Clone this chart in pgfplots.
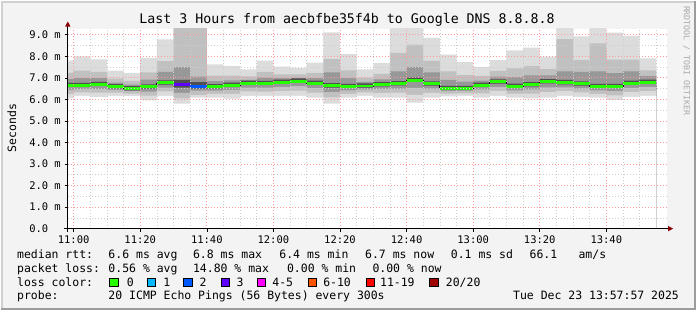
\documentclass[border=0pt]{standalone}
\usepackage{fontspec}
\setmainfont{DejaVu Sans Mono}
\usepackage{pgfplots}
\pgfplotsset{compat=1.18}
\usepackage{pgfplotstable}

\definecolor{bg}{HTML}{F3F3F3}
\definecolor{g1}{HTML}{DCDCDC}
\definecolor{g2}{HTML}{C0C0C0}
\definecolor{g3}{HTML}{989898}
\definecolor{g4}{HTML}{505050}
\definecolor{majgrid}{HTML}{FF9A9A}
\definecolor{mingrid}{HTML}{CFCFCF}
\definecolor{loss0}{HTML}{26FF00}
\definecolor{loss1}{HTML}{00B8FF}
\definecolor{loss2}{HTML}{0059FF}
\definecolor{loss3}{HTML}{5E00FF}
\definecolor{loss4}{HTML}{FF00FF}
\definecolor{loss6}{HTML}{FF5500}
\definecolor{loss11}{HTML}{FF0000}
\definecolor{loss20}{HTML}{A10000}
\definecolor{arrowred}{HTML}{8B0000}
\definecolor{edgelight}{HTML}{D0D0D0}
\definecolor{edgedark}{HTML}{9C9C9C}
\definecolor{rrdgray}{HTML}{AAAAAA}

% minutes after 11:00; a1..a4 below median, b4..b1 above (smoke bands)
\pgfplotstableread{
t a1 a2 a3 a4 med b4 b3 b2 b1
-5 6.05 6.26 6.44 6.57 6.65 6.77 6.94 7.23 7.80
0 6.16 6.33 6.48 6.57 6.65 6.77 6.99 7.33 8.00
5 6.10 6.31 6.48 6.61 6.69 6.81 6.98 7.28 7.86
10 6.16 6.31 6.44 6.51 6.59 6.71 6.78 6.96 7.33
15 6.15 6.27 6.38 6.42 6.50 6.62 6.68 6.86 7.22
20 5.95 6.17 6.36 6.50 6.58 6.70 6.92 7.25 7.92
25 6.16 6.37 6.55 6.68 6.76 6.88 7.27 7.77 8.78
30 5.80 6.05 6.30 6.55 6.68 6.90 7.50 9.50 9.50
35 6.08 6.20 6.40 6.50 6.60 6.80 7.05 9.50 9.50
40 6.08 6.26 6.41 6.51 6.59 6.71 6.85 7.10 7.62
45 6.03 6.25 6.44 6.58 6.66 6.78 6.88 7.10 7.55
50 6.16 6.37 6.54 6.67 6.75 6.87 6.91 7.07 7.39
55 6.16 6.36 6.54 6.66 6.74 6.86 7.01 7.27 7.80
60 6.16 6.38 6.58 6.72 6.80 6.92 6.98 7.16 7.52
65 6.16 6.40 6.61 6.77 6.85 6.97 7.00 7.16 7.46
70 6.08 6.31 6.52 6.67 6.75 6.87 6.99 7.23 7.70
75 5.80 6.09 6.34 6.55 6.63 6.75 7.25 7.87 9.11
80 6.08 6.26 6.42 6.52 6.60 6.72 6.98 7.35 8.10
85 6.16 6.32 6.46 6.54 6.62 6.74 6.81 7.01 7.39
90 6.08 6.29 6.47 6.60 6.68 6.80 6.93 7.18 7.68
95 6.08 6.31 6.50 6.65 6.73 6.85 7.30 8.16 9.50
100 5.85 6.21 6.53 6.81 6.89 7.01 7.50 8.54 9.50
105 6.08 6.30 6.50 6.64 6.72 6.84 7.25 7.79 8.85
110 6.14 6.27 6.38 6.43 6.51 6.63 6.90 7.30 8.08
115 6.16 6.28 6.39 6.43 6.51 6.63 6.82 7.12 7.73
120 6.08 6.28 6.46 6.58 6.66 6.78 6.87 7.09 7.51
125 6.16 6.39 6.58 6.73 6.81 6.93 7.06 7.32 7.82
130 6.08 6.27 6.42 6.53 6.61 6.73 7.03 7.44 8.27
135 6.05 6.27 6.46 6.60 6.68 6.80 7.11 7.54 8.40
140 6.08 6.34 6.56 6.74 6.82 6.94 7.11 7.40 7.98
145 6.16 6.38 6.56 6.70 6.78 6.90 7.30 8.80 9.50
150 6.12 6.33 6.51 6.64 6.72 6.84 7.27 7.82 8.92
155 6.08 6.26 6.42 6.52 6.60 6.72 7.30 8.60 9.50
160 5.96 6.18 6.38 6.52 6.60 6.72 7.22 7.85 9.10
165 6.12 6.34 6.53 6.67 6.75 6.87 7.30 7.85 8.95
170 6.16 6.38 6.58 6.72 6.80 6.92 7.08 7.35 7.90
175 6.16 6.38 6.58 6.72 6.80 6.92 7.08 7.35 7.90
}\smoke

\begin{document}
\begin{tikzpicture}
% canvas
\fill[bg] (0pt,0pt) rectangle (697pt,310pt);
\draw[edgelight, line width=2pt] (1pt,0pt) -- (1pt,309pt) -- (697pt,309pt);
\draw[edgedark, line width=2pt] (0pt,1pt) -- (696pt,1pt) -- (696pt,310pt);

\begin{axis}[
  at={(67pt,81.7pt)}, anchor=south west, scale only axis,
  width=601pt, height=200.3pt,
  xmin=-1.75, xmax=178.25, ymin=0, ymax=9.27,
  axis on top,
  axis background/.style={fill=white},
  axis line style={draw=none},
  tick pos=left, tick align=outside,
  major tick length=3pt, minor tick length=0pt,
  tick style={black, line width=0.6pt},
  xtick={0,20,...,160},
  xticklabels={11:00,11:20,11:40,12:00,12:20,12:40,13:00,13:20,13:40},
  minor xtick={5,10,15,25,30,35,45,50,55,65,70,75,85,90,95,105,110,115,125,130,135,145,150,155,165,170,175},
  ytick={0,1,2,3,4,5,6,7,8,9},
  yticklabels={0.0\hphantom{\ m},1.0 m,2.0 m,3.0 m,4.0 m,5.0 m,6.0 m,7.0 m,8.0 m,9.0 m},
  minor ytick={0.5,1.5,2.5,3.5,4.5,5.5,6.5,7.5,8.5},
  grid=both,
  major grid style={majgrid, dash pattern=on 1pt off 2pt, line width=0.7pt},
  minor grid style={mingrid, dash pattern=on 1pt off 2pt, line width=0.7pt},
  ticklabel style={font=\fontsize{10.5}{12}\selectfont, text=black},
  xticklabel style={yshift=-0.5pt},
  yticklabel style={xshift=-0.5pt},
  /pgf/number format/assume math mode=true,
]
% smoke bands, painted from the baseline upwards
\addplot[fill=g1, draw=none, const plot mark left] table[x=t,y=b1]{\smoke} \closedcycle;
\addplot[fill=g2, draw=none, const plot mark left] table[x=t,y=b2]{\smoke} \closedcycle;
\addplot[fill=g3, draw=none, const plot mark left] table[x=t,y=b3]{\smoke} \closedcycle;
\addplot[fill=g4, draw=none, const plot mark left] table[x=t,y=b4]{\smoke} \closedcycle;
\addplot[fill=g3, draw=none, const plot mark left] table[x=t,y=a4]{\smoke} \closedcycle;
\addplot[fill=g2, draw=none, const plot mark left] table[x=t,y=a3]{\smoke} \closedcycle;
\addplot[fill=g1, draw=none, const plot mark left] table[x=t,y=a2]{\smoke} \closedcycle;
\addplot[fill=white, draw=none, const plot mark left] table[x=t,y=a1]{\smoke} \closedcycle;
% median rtt
\addplot[black, line width=0.8pt, const plot mark left] table[x=t,y=med]{\smoke};
\addplot[loss0, line width=3pt, jump mark left] table[x=t,y=med]{\smoke};
\addplot[loss3, line width=3pt, jump mark left] coordinates {(30,6.68) (35,6.68)};
\addplot[loss2, line width=3pt, jump mark left] coordinates {(35,6.60) (40,6.60)};
\end{axis}

% axis lines and arrows
\draw[black, line width=1pt] (67pt,78.5pt) -- (67pt,285pt);
\draw[black, line width=1pt] (63pt,81.7pt) -- (670pt,81.7pt);
\fill[arrowred] (64.3pt,284.3pt) -- (69.7pt,284.3pt) -- (67pt,289.5pt) -- cycle;
\fill[arrowred] (669pt,79pt) -- (669pt,84.4pt) -- (674pt,81.7pt) -- cycle;

% title and labels
\node[font=\fontsize{13.3}{15}\selectfont] at (347pt,291pt) {Last 3 Hours from aecbfbe35f4b to Google DNS 8.8.8.8};
\node[rotate=90, font=\fontsize{11.5}{13}\selectfont] at (11pt,182.5pt) {Seconds};
\node[rotate=-90, font=\fontsize{8.3}{10}\selectfont, text=rrdgray] at (687.5pt,250pt) {RRDTOOL / TOBI OETIKER};

% legend
\begin{scope}[every node/.style={inner sep=0pt, anchor=base west, font=\fontsize{11.5}{13}\selectfont}]
\node at (16pt,51.3pt) {median rtt:};
\node at (107.6pt,51.3pt) {6.6 ms avg};
\node at (192.4pt,51.3pt) {6.8 ms max};
\node at (279pt,51.3pt) {6.4 ms min};
\node at (365pt,51.3pt) {6.7 ms now};
\node at (451pt,51.3pt) {0.1 ms sd};
\node at (530pt,51.3pt) {66.1};
\node at (579pt,51.3pt) {am/s};

\node at (16pt,38pt) {packet loss:};
\node at (107.6pt,38pt) {0.56 \% avg};
\node at (192.4pt,38pt) {14.80 \% max};
\node at (286.7pt,38pt) {0.00 \% min};
\node at (372.4pt,38pt) {0.00 \% now};

\node at (16pt,24pt) {loss color:};
\node at (126pt,24pt) {0};
\node at (162.7pt,24pt) {1};
\node at (199pt,24pt) {2};
\node at (236pt,24pt) {3};
\node at (272pt,24pt) {4-5};
\node at (323pt,24pt) {6-10};
\node at (380pt,24pt) {11-19};
\node at (446pt,24pt) {20/20};

\node at (16pt,10.3pt) {probe:};
\node at (107.6pt,10.3pt) {20 ICMP Echo Pings (56 Bytes) every 300s};
\node[anchor=base east] at (680pt,10.3pt) {Tue Dec 23 13:57:57 2025};
\end{scope}
\foreach \xx/\cc in {109/loss0,146.7/loss1,183/loss2,221/loss3,257/loss4,308/loss6,366/loss11,430/loss20}{
  \filldraw[fill=\cc, draw=black, line width=0.8pt] (\xx pt,23.3pt) rectangle ++(8.5pt,8.5pt);
}
\end{tikzpicture}
\end{document}
